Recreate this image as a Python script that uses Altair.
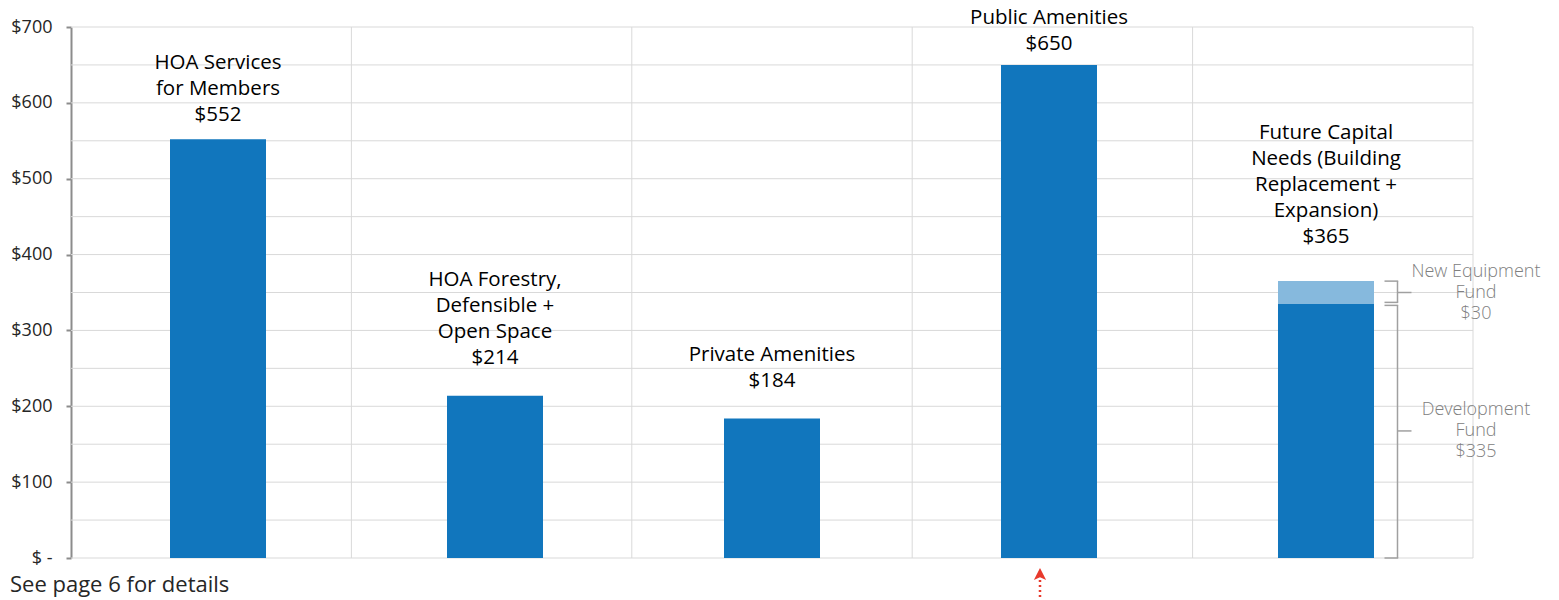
import altair as alt
import pandas as pd

# ---------------- data ----------------
categories = [
    "HOA Services for Members",
    "HOA Forestry, Defensible + Open Space",
    "Private Amenities",
    "Public Amenities",
    "Future Capital Needs (Building Replacement + Expansion)",
]
label_lines = [
    "HOA Services\nfor Members",
    "HOA Forestry,\nDefensible +\nOpen Space",
    "Private Amenities",
    "Public Amenities",
    "Future Capital\nNeeds (Building\nReplacement +\nExpansion)",
]
totals = [552, 214, 184, 650, 365]

seg_category = [categories[0], categories[1], categories[2], categories[3], categories[4], categories[4]]
seg_names = ["HOA Services", "HOA Forestry", "Private Amenities", "Public Amenities",
             "Development Fund", "New Equipment Fund"]
seg_values = [552, 214, 184, 650, 335, 30]
seg_kind = ["main", "main", "main", "main", "main", "sub"]

sub_labels = ["New Equipment\nFund\n$30", "Development\nFund\n$335"]
sub_lo = [335, 0]
sub_hi = [365, 335]

y_ticks = [0, 100, 200, 300, 400, 500, 600, 700]
grid_y = [0, 50, 100, 150, 200, 250, 300, 350, 400, 450, 500, 550, 600, 650, 700]
grid_x = [1, 2, 3, 4, 5]

arrow_category = "Public Amenities"
footnote = "See page 6 for details"

# ---------------- layout / style ----------------
W, H = 1402, 531
FONT = "Open Sans"
DARK = "#1176bd"
LIGHT = "#86b9dd"
GRID = "#d9d9d9"
BRACKET = "#a0a0a0"
ANNOT = "#808080"
LH = 26
# pixel gap between each bar top and the baseline of its label's last line
label_gap = [18, 32, 31, 15, 38]

xscale = alt.Scale(domain=categories, paddingInner=0, paddingOuter=0.0307)
yscale = alt.Scale(domain=[0, 700], nice=False)
yaxis = alt.Axis(
    values=y_ticks,
    labelExpr="datum.value == 0 ? '$ -' : '$' + datum.value",
    domainColor="#8c8c8c",
    domainWidth=2,
    tickColor="#8c8c8c",
    tickWidth=2,
    tickSize=5,
    labelFontSize=18,
    labelColor="#262626",
    labelFont=FONT,
    labelPadding=14,
    grid=False,
    title=None,
)


def X():
    return alt.X("cat:N", scale=xscale, axis=None)


def Y(field):
    return alt.Y(field, scale=yscale, axis=yaxis)


# ---------------- tables ----------------
segs = pd.DataFrame({"cat": seg_category, "name": seg_names, "v": seg_values, "kind": seg_kind})
segs["y1"] = segs.groupby("cat")["v"].cumsum()
segs["y0"] = segs["y1"] - segs["v"]

labels = pd.DataFrame({
    "cat": categories,
    "total": totals,
    "text": [f"{l}\n${t}" for l, t in zip(label_lines, totals)],
})
labels["n"] = labels["text"].str.count("\n") + 1

gy = pd.DataFrame({"v": grid_y})
gx = pd.DataFrame({"b": grid_x})

# ---------------- layers ----------------
hgrid = alt.Chart(gy).mark_rule(color=GRID, strokeWidth=1).encode(
    y=Y("v:Q"),
    x=alt.value(0),
    x2=alt.value(W),
)

vgrid = alt.Chart(gx).mark_rule(color=GRID, strokeWidth=1).encode(
    x=alt.X("b:Q", scale=alt.Scale(domain=[0, 5], nice=False), axis=None),
    y=alt.value(0),
    y2=alt.value(H),
)

bars = alt.Chart(segs).mark_bar(size=96).encode(
    x=X(),
    y=Y("y0:Q"),
    y2="y1:Q",
    color=alt.Color("kind:N", scale=alt.Scale(domain=["main", "sub"], range=[DARK, LIGHT]), legend=None),
    tooltip=["name:N", "v:Q"],
)

text_layers = []
for i, c in enumerate(categories):
    n = int(labels.loc[i, "n"])
    text_layers.append(
        alt.Chart(labels).transform_filter(alt.datum.cat == c).mark_text(
            font=FONT, fontSize=20.5, color="#000000", baseline="alphabetic",
            align="center", lineBreak="\n", lineHeight=LH, dy=-label_gap[i] - (n - 1) * LH,
        ).encode(x=X(), y=Y("total:Q"), text="text:N")
    )

CAT5 = categories[4]
brk_layers = []
offs = [(0, -1.5), (1.5, 0)]  # (top offset, bottom offset) per bracket
for i in range(2):
    d = pd.DataFrame({"cat": [CAT5], "lo": [sub_lo[i]], "hi": [sub_hi[i]],
                      "mid": [(sub_lo[i] + sub_hi[i]) / 2], "text": [sub_labels[i]]})
    top_off, bot_off = offs[i]
    base = alt.Chart(d)
    vert = base.mark_rule(color=BRACKET, strokeWidth=1.5, xOffset=71.5,
                          yOffset=top_off, y2Offset=bot_off).encode(
        x=X(), y=Y("hi:Q"), y2="lo:Q")
    top = base.mark_rule(color=BRACKET, strokeWidth=1.5, xOffset=58.5, x2Offset=72.2,
                         yOffset=top_off).encode(
        x=X(), x2="cat:N", y=Y("hi:Q"))
    bot = base.mark_rule(color=BRACKET, strokeWidth=1.5, xOffset=58.5, x2Offset=72.2,
                         yOffset=bot_off).encode(
        x=X(), x2="cat:N", y=Y("lo:Q"))
    mid = base.mark_rule(color=BRACKET, strokeWidth=1.5, xOffset=71.5, x2Offset=85.5).encode(
        x=X(), x2="cat:N", y=Y("mid:Q"))
    txt = base.mark_text(font=FONT, fontSize=18, fontWeight=300, color=ANNOT, align="center",
                         baseline="middle", lineBreak="\n", lineHeight=21, dx=150, dy=-21).encode(
        x=X(), y=Y("mid:Q"), text="text:N")
    brk_layers += [vert, top, bot, mid, txt]

ad = pd.DataFrame({"cat": [arrow_category]})
arrow_head = alt.Chart(ad).mark_point(
    shape="M0,-1L1,1L0,0.55L-1,1Z", filled=True, size=150, color="#e8392c", opacity=1,
    xOffset=-9, strokeWidth=0,
).encode(x=X(), y=alt.value(H + 16))
arrow_tail = alt.Chart(ad).mark_rule(
    color="#e8392c", strokeWidth=2.5, strokeDash=[2, 3], xOffset=-9,
).encode(x=X(), y=alt.value(H + 22), y2=alt.value(H + 40))

foot = alt.Chart(ad).mark_text(
    font=FONT, fontSize=22, color="#262626", align="left", baseline="middle",
).encode(x=alt.value(-61), y=alt.value(H + 27), text=alt.value(footnote))

main = alt.layer(hgrid, bars, *text_layers, *brk_layers, arrow_head, arrow_tail, foot)

chart = alt.layer(vgrid, main).resolve_scale(x="independent").properties(
    width=W, height=H,
    autosize=alt.AutoSizeParams(type="none"),
    padding={"left": 63, "top": 19, "right": 78, "bottom": 42},
).configure_view(stroke=None)

chart.save("out.html", embed_options={"renderer": "svg", "actions": False})
